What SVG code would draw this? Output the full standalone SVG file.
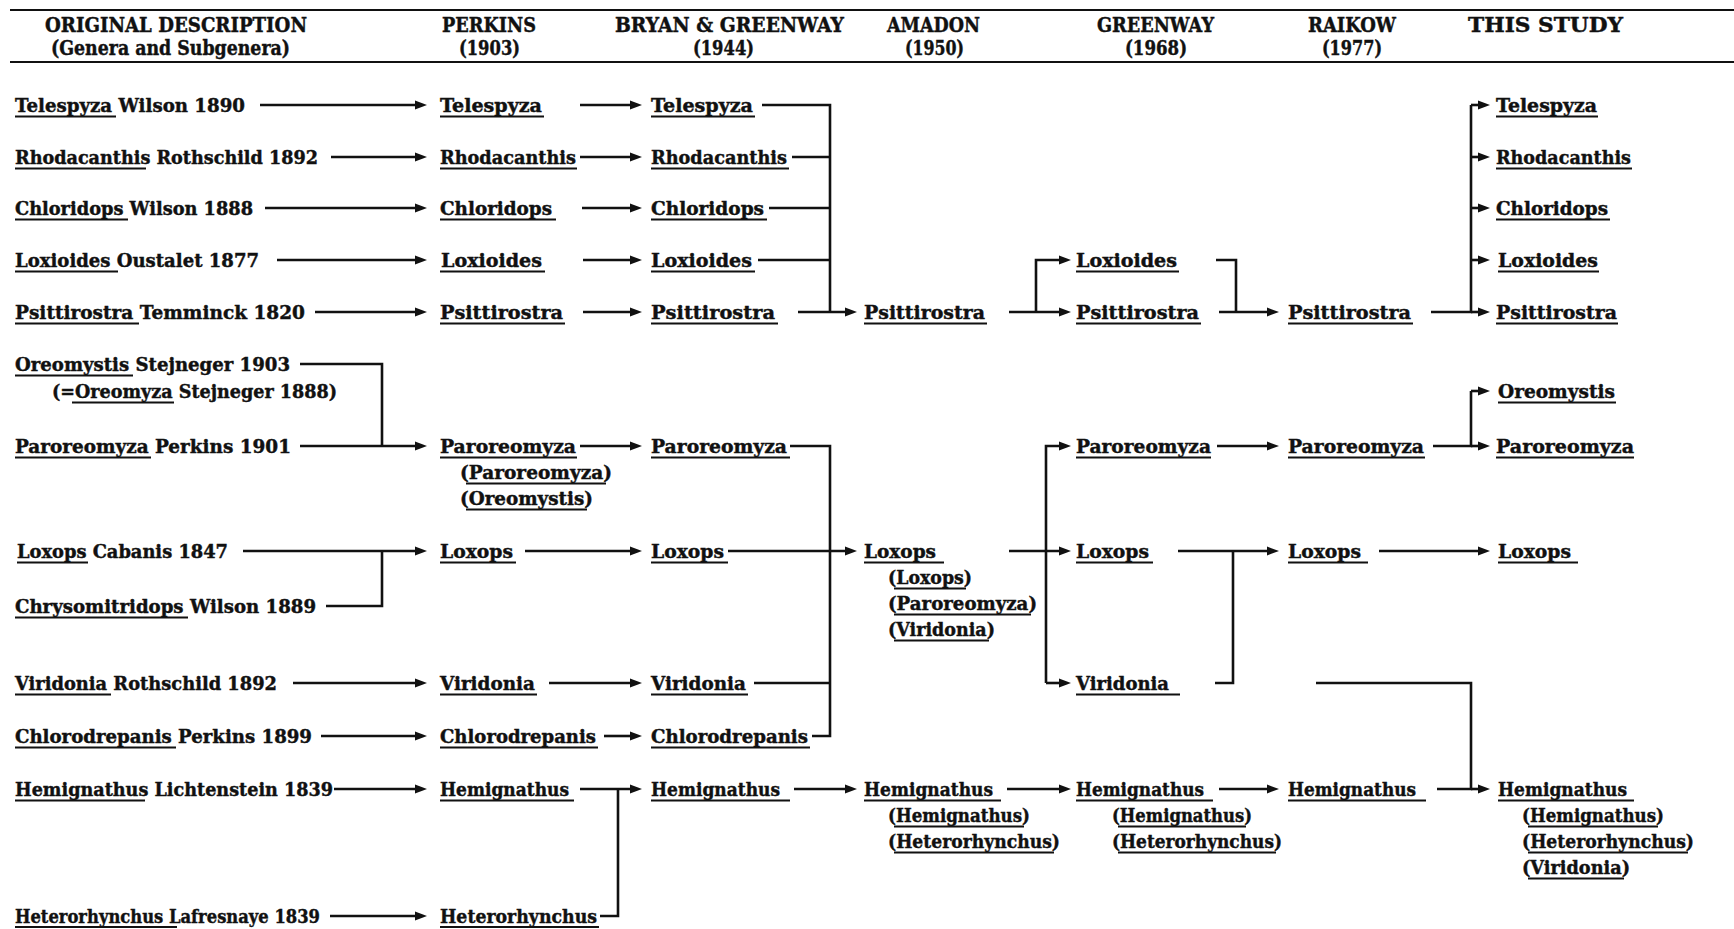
<svg xmlns="http://www.w3.org/2000/svg" width="1734" height="929" viewBox="0 0 1734 929">
  <style>
    text { font-family: 'DejaVu Serif', 'Liberation Serif', serif; font-weight: bold; font-size: 19px; fill: #111; stroke: #111; stroke-width: 0.45; }
    text.h { font-size: 21px; }
    .ul { stroke: #111; stroke-width: 2; fill: none; }
    .rule { stroke: #111; stroke-width: 2.2; }
    .c { stroke: #111; stroke-width: 2.6; fill: none; }
    .a { marker-end: url(#arr); }
  </style>
  <defs>
    <marker id="arr" markerUnits="userSpaceOnUse" markerWidth="13" markerHeight="10" refX="1" refY="5" orient="auto">
      <path d="M0,0.6 L12,5 L0,9.4 z" fill="#111"/>
    </marker>
  </defs>
  <rect width="1734" height="929" fill="#fff"/>

  <!-- column headings -->
  <g id="header">
    <line class="rule" x1="10" y1="10" x2="1734" y2="10"/>
    <line class="rule" x1="10" y1="62" x2="1734" y2="62"/>
    <text class="h" x="45" y="32" textLength="262" lengthAdjust="spacingAndGlyphs">ORIGINAL DESCRIPTION</text>
    <text class="h" x="51" y="55" textLength="239" lengthAdjust="spacingAndGlyphs">(Genera and Subgenera)</text>
    <text class="h" x="442" y="32" textLength="94" lengthAdjust="spacingAndGlyphs">PERKINS</text>
    <text class="h" x="459" y="55" textLength="61" lengthAdjust="spacingAndGlyphs">(1903)</text>
    <text class="h" x="615" y="32" textLength="229" lengthAdjust="spacingAndGlyphs">BRYAN &amp; GREENWAY</text>
    <text class="h" x="693" y="55" textLength="61" lengthAdjust="spacingAndGlyphs">(1944)</text>
    <text class="h" x="887" y="32" textLength="93" lengthAdjust="spacingAndGlyphs">AMADON</text>
    <text class="h" x="905" y="55" textLength="59" lengthAdjust="spacingAndGlyphs">(1950)</text>
    <text class="h" x="1097" y="32" textLength="117" lengthAdjust="spacingAndGlyphs">GREENWAY</text>
    <text class="h" x="1125" y="55" textLength="62" lengthAdjust="spacingAndGlyphs">(1968)</text>
    <text class="h" x="1308" y="32" textLength="88" lengthAdjust="spacingAndGlyphs">RAIKOW</text>
    <text class="h" x="1322" y="55" textLength="60" lengthAdjust="spacingAndGlyphs">(1977)</text>
    <text class="h" x="1468" y="32" textLength="155" lengthAdjust="spacingAndGlyphs">THIS STUDY</text>
  </g>

  <!-- original descriptions -->
  <g id="o-telespyza"><text x="15" y="112" textLength="230" lengthAdjust="spacingAndGlyphs">Telespyza Wilson 1890</text><path class="ul" d="M15 116.5H116"/></g>
  <g id="o-rhodacanthis"><text x="15" y="164" textLength="303" lengthAdjust="spacingAndGlyphs">Rhodacanthis Rothschild 1892</text><path class="ul" d="M15 168.5H146"/></g>
  <g id="o-chloridops"><text x="15" y="215" textLength="238" lengthAdjust="spacingAndGlyphs">Chloridops Wilson 1888</text><path class="ul" d="M15 219.5H128"/></g>
  <g id="o-loxioides"><text x="15" y="267" textLength="244" lengthAdjust="spacingAndGlyphs">Loxioides Oustalet 1877</text><path class="ul" d="M15 271.5H118"/></g>
  <g id="o-psittirostra"><text x="15" y="319" textLength="290" lengthAdjust="spacingAndGlyphs">Psittirostra Temminck 1820</text><path class="ul" d="M15 323.5H139"/></g>
  <g id="o-oreomystis">
    <text x="15" y="371" textLength="275" lengthAdjust="spacingAndGlyphs">Oreomystis Stejneger 1903</text><path class="ul" d="M15 375.5H133"/>
    <text x="52" y="398" textLength="285" lengthAdjust="spacingAndGlyphs">(=Oreomyza Stejneger 1888)</text><path class="ul" d="M72 402.5H174"/>
  </g>
  <g id="o-paroreomyza"><text x="15" y="453" textLength="276" lengthAdjust="spacingAndGlyphs">Paroreomyza Perkins 1901</text><path class="ul" d="M15 457.5H151"/></g>
  <g id="o-loxops"><text x="17" y="558" textLength="211" lengthAdjust="spacingAndGlyphs">Loxops Cabanis 1847</text><path class="ul" d="M17 562.5H88"/></g>
  <g id="o-chrysomitridops"><text x="15" y="613" textLength="301" lengthAdjust="spacingAndGlyphs">Chrysomitridops Wilson 1889</text><path class="ul" d="M15 617.5H188"/></g>
  <g id="o-viridonia"><text x="15" y="690" textLength="262" lengthAdjust="spacingAndGlyphs">Viridonia Rothschild 1892</text><path class="ul" d="M15 694.5H111"/></g>
  <g id="o-chlorodrepanis"><text x="15" y="743" textLength="297" lengthAdjust="spacingAndGlyphs">Chlorodrepanis Perkins 1899</text><path class="ul" d="M15 747.5H176"/></g>
  <g id="o-hemignathus"><text x="15" y="796" textLength="318" lengthAdjust="spacingAndGlyphs">Hemignathus Lichtenstein 1839</text><path class="ul" d="M15 800.5H145"/></g>
  <g id="o-heterorhynchus"><text x="15" y="923" textLength="305" lengthAdjust="spacingAndGlyphs">Heterorhynchus Lafresnaye 1839</text><path class="ul" d="M15 927H177"/></g>

  <!-- Perkins 1903 -->
  <g id="p-telespyza"><text x="440" y="112" textLength="102" lengthAdjust="spacingAndGlyphs">Telespyza</text><path class="ul" d="M440 116.5H544"/></g>
  <g id="p-rhodacanthis"><text x="440" y="164" textLength="136" lengthAdjust="spacingAndGlyphs">Rhodacanthis</text><path class="ul" d="M440 168.5H577"/></g>
  <g id="p-chloridops"><text x="440" y="215" textLength="112" lengthAdjust="spacingAndGlyphs">Chloridops</text><path class="ul" d="M440 219.5H556"/></g>
  <g id="p-loxioides"><text x="441" y="267" textLength="101" lengthAdjust="spacingAndGlyphs">Loxioides</text><path class="ul" d="M440 271.5H545"/></g>
  <g id="p-psittirostra"><text x="440" y="319" textLength="123" lengthAdjust="spacingAndGlyphs">Psittirostra</text><path class="ul" d="M440 323.5H565"/></g>
  <g id="p-paroreomyza">
    <text x="440" y="453" textLength="136" lengthAdjust="spacingAndGlyphs">Paroreomyza</text><path class="ul" d="M440 457.5H577"/>
    <text x="460" y="479" textLength="152" lengthAdjust="spacingAndGlyphs">(Paroreomyza)</text><path class="ul" d="M466 483.5H606"/>
    <text x="460" y="505" textLength="133" lengthAdjust="spacingAndGlyphs">(Oreomystis)</text><path class="ul" d="M466 509.5H587"/>
  </g>
  <g id="p-loxops"><text x="440" y="558" textLength="73" lengthAdjust="spacingAndGlyphs">Loxops</text><path class="ul" d="M440 562.5H516"/></g>
  <g id="p-viridonia"><text x="440" y="690" textLength="95" lengthAdjust="spacingAndGlyphs">Viridonia</text><path class="ul" d="M440 694.5H537"/></g>
  <g id="p-chlorodrepanis"><text x="440" y="743" textLength="156" lengthAdjust="spacingAndGlyphs">Chlorodrepanis</text><path class="ul" d="M440 747.5H598"/></g>
  <g id="p-hemignathus"><text x="440" y="796" textLength="129" lengthAdjust="spacingAndGlyphs">Hemignathus</text><path class="ul" d="M440 800.5H574"/></g>
  <g id="p-heterorhynchus"><text x="440" y="923" textLength="157" lengthAdjust="spacingAndGlyphs">Heterorhynchus</text><path class="ul" d="M440 927H599"/></g>

  <!-- Bryan & Greenway 1944 -->
  <g id="b-telespyza"><text x="651" y="112" textLength="102" lengthAdjust="spacingAndGlyphs">Telespyza</text><path class="ul" d="M651 116.5H755"/></g>
  <g id="b-rhodacanthis"><text x="651" y="164" textLength="136" lengthAdjust="spacingAndGlyphs">Rhodacanthis</text><path class="ul" d="M651 168.5H789"/></g>
  <g id="b-chloridops"><text x="651" y="215" textLength="113" lengthAdjust="spacingAndGlyphs">Chloridops</text><path class="ul" d="M651 219.5H767"/></g>
  <g id="b-loxioides"><text x="651" y="267" textLength="101" lengthAdjust="spacingAndGlyphs">Loxioides</text><path class="ul" d="M651 271.5H755"/></g>
  <g id="b-psittirostra"><text x="651" y="319" textLength="124" lengthAdjust="spacingAndGlyphs">Psittirostra</text><path class="ul" d="M651 323.5H778"/></g>
  <g id="b-paroreomyza"><text x="651" y="453" textLength="136" lengthAdjust="spacingAndGlyphs">Paroreomyza</text><path class="ul" d="M651 457.5H790"/></g>
  <g id="b-loxops"><text x="651" y="558" textLength="73" lengthAdjust="spacingAndGlyphs">Loxops</text><path class="ul" d="M651 562.5H728"/></g>
  <g id="b-viridonia"><text x="651" y="690" textLength="95" lengthAdjust="spacingAndGlyphs">Viridonia</text><path class="ul" d="M651 694.5H748"/></g>
  <g id="b-chlorodrepanis"><text x="651" y="743" textLength="157" lengthAdjust="spacingAndGlyphs">Chlorodrepanis</text><path class="ul" d="M651 747.5H810"/></g>
  <g id="b-hemignathus"><text x="651" y="796" textLength="129" lengthAdjust="spacingAndGlyphs">Hemignathus</text><path class="ul" d="M651 800.5H790"/></g>

  <!-- Amadon 1950 -->
  <g id="a-psittirostra"><text x="864" y="319" textLength="121" lengthAdjust="spacingAndGlyphs">Psittirostra</text><path class="ul" d="M864 323.5H987"/></g>
  <g id="a-loxops">
    <text x="864" y="558" textLength="72" lengthAdjust="spacingAndGlyphs">Loxops</text><path class="ul" d="M864 562.5H944"/>
    <text x="888" y="584" textLength="84" lengthAdjust="spacingAndGlyphs">(Loxops)</text><path class="ul" d="M894 588.5H966"/>
    <text x="888" y="610" textLength="149" lengthAdjust="spacingAndGlyphs">(Paroreomyza)</text><path class="ul" d="M894 614.5H1031"/>
    <text x="888" y="636" textLength="107" lengthAdjust="spacingAndGlyphs">(Viridonia)</text><path class="ul" d="M894 640.5H989"/>
  </g>
  <g id="a-hemignathus">
    <text x="864" y="796" textLength="129" lengthAdjust="spacingAndGlyphs">Hemignathus</text><path class="ul" d="M864 800.5H1001"/>
    <text x="888" y="822" textLength="142" lengthAdjust="spacingAndGlyphs">(Hemignathus)</text><path class="ul" d="M894 826.5H1024"/>
    <text x="888" y="848" textLength="172" lengthAdjust="spacingAndGlyphs">(Heterorhynchus)</text><path class="ul" d="M894 852.5H1054"/>
  </g>

  <!-- Greenway 1968 -->
  <g id="g-loxioides"><text x="1076" y="267" textLength="101" lengthAdjust="spacingAndGlyphs">Loxioides</text><path class="ul" d="M1076 271.5H1179"/></g>
  <g id="g-psittirostra"><text x="1076" y="319" textLength="123" lengthAdjust="spacingAndGlyphs">Psittirostra</text><path class="ul" d="M1076 323.5H1201"/></g>
  <g id="g-paroreomyza"><text x="1076" y="453" textLength="135" lengthAdjust="spacingAndGlyphs">Paroreomyza</text><path class="ul" d="M1076 457.5H1211"/></g>
  <g id="g-loxops"><text x="1076" y="558" textLength="73" lengthAdjust="spacingAndGlyphs">Loxops</text><path class="ul" d="M1076 562.5H1153"/></g>
  <g id="g-viridonia"><text x="1076" y="690" textLength="93" lengthAdjust="spacingAndGlyphs">Viridonia</text><path class="ul" d="M1076 694.5H1180"/></g>
  <g id="g-hemignathus">
    <text x="1076" y="796" textLength="128" lengthAdjust="spacingAndGlyphs">Hemignathus</text><path class="ul" d="M1076 800.5H1213"/>
    <text x="1112" y="822" textLength="140" lengthAdjust="spacingAndGlyphs">(Hemignathus)</text><path class="ul" d="M1118 826.5H1246"/>
    <text x="1112" y="848" textLength="170" lengthAdjust="spacingAndGlyphs">(Heterorhynchus)</text><path class="ul" d="M1118 852.5H1276"/>
  </g>

  <!-- Raikow 1977 -->
  <g id="r-psittirostra"><text x="1288" y="319" textLength="123" lengthAdjust="spacingAndGlyphs">Psittirostra</text><path class="ul" d="M1288 323.5H1413"/></g>
  <g id="r-paroreomyza"><text x="1288" y="453" textLength="136" lengthAdjust="spacingAndGlyphs">Paroreomyza</text><path class="ul" d="M1288 457.5H1425"/></g>
  <g id="r-loxops"><text x="1288" y="558" textLength="73" lengthAdjust="spacingAndGlyphs">Loxops</text><path class="ul" d="M1288 562.5H1368"/></g>
  <g id="r-hemignathus"><text x="1288" y="796" textLength="128" lengthAdjust="spacingAndGlyphs">Hemignathus</text><path class="ul" d="M1288 800.5H1426"/></g>

  <!-- This study -->
  <g id="s-telespyza"><text x="1496" y="112" textLength="101" lengthAdjust="spacingAndGlyphs">Telespyza</text><path class="ul" d="M1496 116.5H1598"/></g>
  <g id="s-rhodacanthis"><text x="1496" y="164" textLength="135" lengthAdjust="spacingAndGlyphs">Rhodacanthis</text><path class="ul" d="M1496 168.5H1632"/></g>
  <g id="s-chloridops"><text x="1496" y="215" textLength="112" lengthAdjust="spacingAndGlyphs">Chloridops</text><path class="ul" d="M1496 219.5H1610"/></g>
  <g id="s-loxioides"><text x="1498" y="267" textLength="100" lengthAdjust="spacingAndGlyphs">Loxioides</text><path class="ul" d="M1498 271.5H1599"/></g>
  <g id="s-psittirostra"><text x="1496" y="319" textLength="121" lengthAdjust="spacingAndGlyphs">Psittirostra</text><path class="ul" d="M1496 323.5H1618"/></g>
  <g id="s-oreomystis"><text x="1498" y="398" textLength="117" lengthAdjust="spacingAndGlyphs">Oreomystis</text><path class="ul" d="M1498 402.5H1616"/></g>
  <g id="s-paroreomyza"><text x="1496" y="453" textLength="138" lengthAdjust="spacingAndGlyphs">Paroreomyza</text><path class="ul" d="M1496 457.5H1634"/></g>
  <g id="s-loxops"><text x="1498" y="558" textLength="73" lengthAdjust="spacingAndGlyphs">Loxops</text><path class="ul" d="M1498 562.5H1578"/></g>
  <g id="s-hemignathus">
    <text x="1498" y="796" textLength="129" lengthAdjust="spacingAndGlyphs">Hemignathus</text><path class="ul" d="M1498 800.5H1634"/>
    <text x="1522" y="822" textLength="142" lengthAdjust="spacingAndGlyphs">(Hemignathus)</text><path class="ul" d="M1528 826.5H1658"/>
    <text x="1522" y="848" textLength="172" lengthAdjust="spacingAndGlyphs">(Heterorhynchus)</text><path class="ul" d="M1528 852.5H1688"/>
    <text x="1522" y="874" textLength="108" lengthAdjust="spacingAndGlyphs">(Viridonia)</text><path class="ul" d="M1528 878.5H1624"/>
  </g>

  <!-- connectors: arrow lines end 12px short of the tip, the marker supplies the head -->
  <g id="connectors">
    <!-- original description -> Perkins -->
    <path class="c a" d="M260 105H416"/>
    <path class="c a" d="M331 157H416"/>
    <path class="c a" d="M265 208H416"/>
    <path class="c a" d="M277 260H416"/>
    <path class="c a" d="M315 312H416"/>
    <path class="c" d="M300 364H382V446"/>
    <path class="c a" d="M300 446H416"/>
    <path class="c a" d="M243 551H416"/>
    <path class="c" d="M326 606H382V551"/>
    <path class="c a" d="M293 683H416"/>
    <path class="c a" d="M321 736H416"/>
    <path class="c a" d="M334 789H416"/>
    <path class="c a" d="M330 916H416"/>

    <!-- Perkins -> Bryan & Greenway -->
    <path class="c a" d="M580 105H631"/>
    <path class="c a" d="M580 157H631"/>
    <path class="c a" d="M582 208H631"/>
    <path class="c a" d="M583 260H631"/>
    <path class="c a" d="M583 312H631"/>
    <path class="c a" d="M580 446H631"/>
    <path class="c a" d="M525 551H631"/>
    <path class="c a" d="M549 683H631"/>
    <path class="c a" d="M604 736H631"/>
    <path class="c a" d="M580 789H631"/>
    <path class="c" d="M600 916H618V789"/>

    <!-- Bryan & Greenway -> Amadon -->
    <path class="c" d="M762 105H830V312"/>
    <path class="c" d="M792 157H830"/>
    <path class="c" d="M769 208H830"/>
    <path class="c" d="M758 260H830"/>
    <path class="c a" d="M798 312H846"/>
    <path class="c" d="M790 446H830V736H812"/>
    <path class="c" d="M754 683H830"/>
    <path class="c a" d="M728 551H846"/>
    <path class="c a" d="M794 789H846"/>

    <!-- Amadon -> Greenway -->
    <path class="c a" d="M1009 312H1060"/>
    <path class="c a" d="M1036 312V260H1060"/>
    <path class="c a" d="M1009 551H1060"/>
    <path class="c a" d="M1046 683V446H1060"/>
    <path class="c a" d="M1046 683H1060"/>
    <path class="c a" d="M1007 789H1060"/>

    <!-- Greenway -> Raikow -->
    <path class="c" d="M1216 260H1236V312"/>
    <path class="c a" d="M1219 312H1268"/>
    <path class="c a" d="M1217 446H1268"/>
    <path class="c a" d="M1178 551H1268"/>
    <path class="c" d="M1215 683H1233V551"/>
    <path class="c a" d="M1219 789H1268"/>

    <!-- Raikow -> this study -->
    <path class="c" d="M1431 312H1471V105"/>
    <path class="c a" d="M1471 105H1479"/>
    <path class="c a" d="M1471 157H1479"/>
    <path class="c a" d="M1471 208H1479"/>
    <path class="c a" d="M1471 260H1479"/>
    <path class="c a" d="M1471 312H1479"/>
    <path class="c" d="M1433 446H1471V391"/>
    <path class="c a" d="M1471 391H1479"/>
    <path class="c a" d="M1471 446H1479"/>
    <path class="c a" d="M1379 551H1479"/>
    <path class="c" d="M1316 683H1471V789H1437"/>
    <path class="c a" d="M1471 789H1479"/>
  </g>
</svg>
